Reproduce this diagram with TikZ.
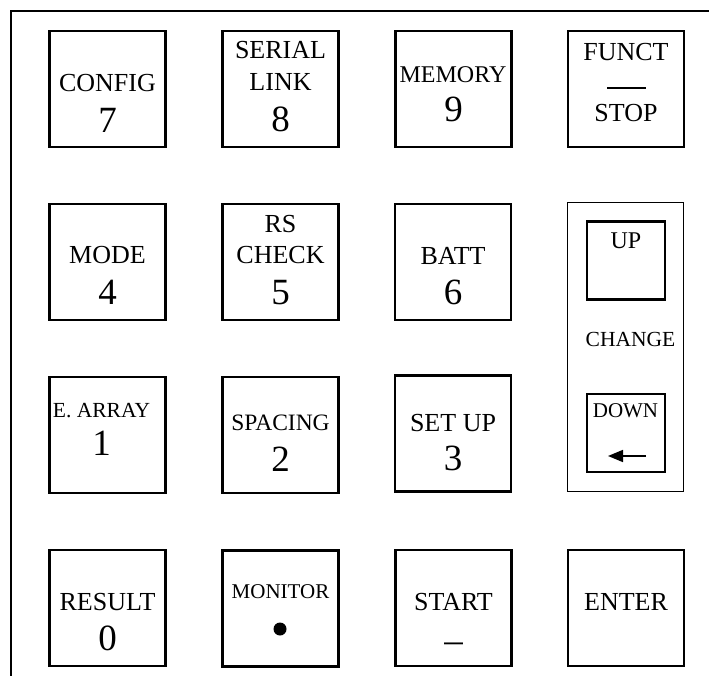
\documentclass[tikz,border=0pt]{standalone}
\usepackage{fontspec}
\setmainfont{Liberation Serif}
\usetikzlibrary{arrows.meta}
\begin{document}
\begin{tikzpicture}[x=1pt,y=-1pt,
  keybox/.style={draw,line width=2.2pt,minimum width=116pt,minimum height=116pt,inner sep=0pt},
  smallbox/.style={draw,line width=2.2pt,minimum width=78pt,minimum height=78pt,inner sep=0pt},
  lbl/.style={anchor=base,inner sep=0pt,font=\fontsize{26}{28}\selectfont},
  slbl/.style={anchor=base,inner sep=0pt,font=\fontsize{21.5}{24}\selectfont},
  dig/.style={anchor=base,inner sep=0pt,font=\fontsize{37}{39}\selectfont}]
\useasboundingbox (0,0) rectangle (709,676);
% outer frame
\coordinate (fb) at (11,676);
\coordinate (ftl) at (11,11);
\coordinate (fr) at (709,11);
\draw[line width=2.2pt] (fb) -- (ftl) -- (fr);
% row 1
\node[keybox] (k7) at (107.5,89) {};
\node[lbl] (t7a) at (107.5,91.7) {CONFIG};
\node[dig] (t7b) at (107.5,133) {7};
\node[keybox] (k8) at (280.5,89) {};
\node[lbl] (t8a) at (280.5,59) {SERIAL};
\node[lbl] (t8b) at (280.5,91) {LINK};
\node[dig] (t8c) at (280.5,131.7) {8};
\node[keybox] (k9) at (453.5,89) {};
\node[lbl,font=\fontsize{24}{26}\selectfont] (t9a) at (453,82.7) {MEMORY};
\node[dig] (t9b) at (453.5,121.7) {9};
\node[keybox] (kf) at (626,89) {};
\node[lbl] (tfa) at (626,60.7) {FUNCT};
\coordinate (rl) at (607,88.3);
\coordinate (rr) at (646,88.3);
\draw[line width=1.6pt] (rl) -- (rr);
\node[lbl] (tfb) at (626,121.7) {STOP};
% row 2
\node[keybox] (k4) at (107.5,262) {};
\node[lbl] (t4a) at (107.5,263) {MODE};
\node[dig] (t4b) at (107.5,304) {4};
\node[keybox] (k5) at (280.5,262) {};
\node[lbl] (t5a) at (280.5,233) {RS};
\node[lbl] (t5b) at (280.5,264) {CHECK};
\node[dig] (t5c) at (280.5,305) {5};
\node[keybox] (k6) at (453,262) {};
\node[lbl] (t6a) at (453,265) {BATT};
\node[dig] (t6b) at (453,305) {6};
% row 3
\node[keybox] (k1) at (107.5,435) {};
\node[slbl] (t1a) at (101.5,417) {E. ARRAY};
\node[dig] (t1b) at (101.5,455.7) {1};
\node[keybox] (k2) at (280.5,435) {};
\node[lbl,font=\fontsize{23.5}{26}\selectfont] (t2a) at (280.5,430.7) {SPACING};
\node[dig] (t2b) at (280.5,471.7) {2};
\node[keybox] (k3) at (453,433.5) {};
\node[lbl] (t3a) at (453,431.7) {SET UP};
\node[dig] (t3b) at (453,470) {3};
% change panel
\node[draw,line width=1.1pt,minimum width=115.5pt,minimum height=289pt,inner sep=0pt] (panel) at (625.5,347.3) {};
\node[smallbox] (kup) at (626,260.5) {};
\node[lbl,font=\fontsize{24}{26}\selectfont] (tup) at (626,249) {UP};
\node[slbl] (tch) at (630.5,346) {CHANGE};
\node[smallbox] (kdn) at (626,433) {};
\node[slbl,font=\fontsize{21}{24}\selectfont] (tdn) at (625.5,417) {DOWN};
\coordinate (aS) at (646,456);
\coordinate (aE) at (608,456);
\draw[line width=1.6pt,-{Triangle[length=15pt,width=12pt]}] (aS) -- (aE);
% row 4
\node[keybox] (k0) at (107.5,608) {};
\node[lbl] (t0a) at (107.5,610) {RESULT};
\node[dig] (t0b) at (107.5,650.7) {0};
\node[keybox] (km) at (280.5,608.5) {};
\node[slbl,font=\fontsize{21}{24}\selectfont] (tma) at (280.5,598) {MONITOR};
\fill (280,629) circle (6.5pt);
\node[keybox] (ks) at (453.5,608) {};
\node[lbl] (tsa) at (453.5,610) {START};
\node[dig] (tsb) at (453.5,652) {–};
\node[keybox] (ke) at (626,608) {};
\node[lbl] (tea) at (626,610) {ENTER};
\end{tikzpicture}
\end{document}
